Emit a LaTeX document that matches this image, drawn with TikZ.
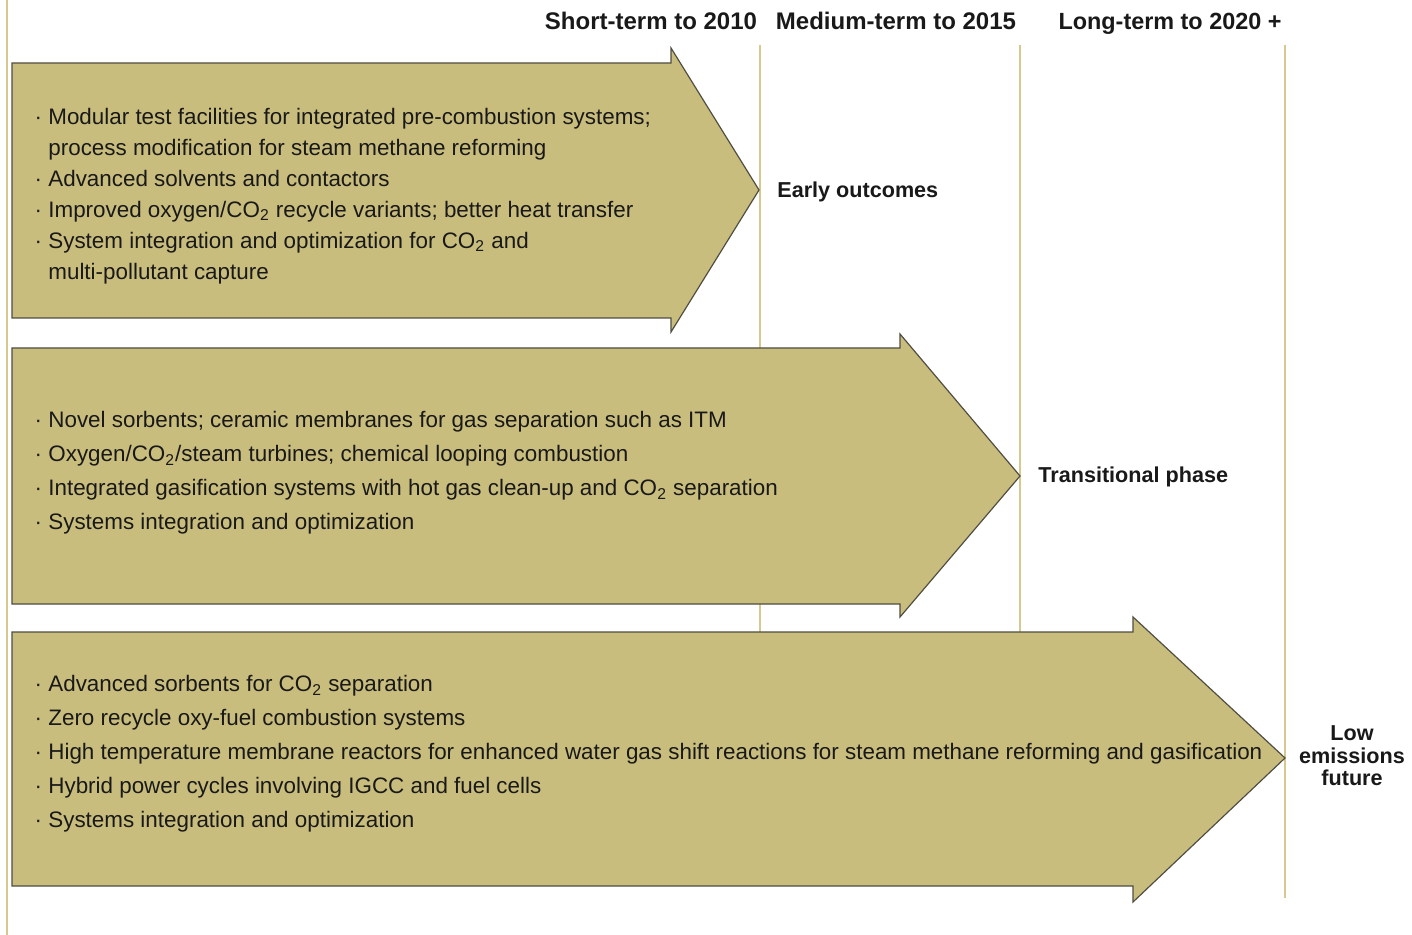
\documentclass[tikz,border=0pt]{standalone}
\usepackage{fontspec}
\setmainfont{Liberation Sans}
\usetikzlibrary{positioning}
\definecolor{khaki}{RGB}{201,189,126}
\definecolor{rulecol}{RGB}{214,201,143}
\definecolor{edgecol}{RGB}{80,78,66}
\newcommand{\itm}{\llap{\textperiodcentered\ }}
\newcommand{\cotwo}{CO\textsubscript{2}}

\begin{document}
\begin{tikzpicture}[x=0.5pt,y=-0.5pt]
\tikzset{phase/.style={fill=khaki,draw=edgecol,line width=0.6pt,line join=miter}}
\tikzset{rulestyle/.style={draw=rulecol,line width=1pt}}
\tikzset{items/.style={anchor=west,align=left,inner sep=0pt,text=black!90}}
\tikzset{period/.style={anchor=base,inner sep=0pt,font=\bfseries\fontsize{12}{14}\selectfont,text=black!90}}
\tikzset{outcome/.style={font=\bfseries\fontsize{10.8}{11.25}\selectfont,align=center,inner sep=0pt,text=black!90}}
\useasboundingbox (0,0) rectangle (1412,935);
\fill[white] (0,0) rectangle (1412,935);
% time rules
\draw[rulestyle] (7,0) -- (7,935);
\draw[rulestyle] (760,45) -- (760,632);
\draw[rulestyle] (1020,45) -- (1020,632);
\draw[rulestyle] (1285,45) -- (1285,898);
% period headers
\node[period] (short) at (651,30) {Short-term to 2010};
\node[period] (medium) at (896,30) {Medium-term to 2015};
\node[period,font=\bfseries\fontsize{11.7}{14}\selectfont] (long) at (1170,30) {Long-term to 2020 +};
% phase arrows
\draw[phase] (12,63) -- (671,63) -- (671,48) -- (759,190) -- (671,332) -- (671,318) -- (12,318) -- cycle;
\draw[phase] (12,348) -- (900,348) -- (900,334) -- (1020,476) -- (900,617) -- (900,604) -- (12,604) -- cycle;
\draw[phase] (12,632) -- (1133,632) -- (1133,617) -- (1285,758) -- (1133,902) -- (1133,886) -- (12,886) -- cycle;
% arrow texts
\node[items,font=\fontsize{11.2}{15.5}\selectfont] (early) at (48,196) {%
\itm Modular test facilities for integrated pre-combustion systems;\\
process modification for steam methane reforming\\
\itm Advanced solvents and contactors\\
\itm Improved oxygen/\cotwo{} recycle variants; better heat transfer\\
\itm System integration and optimization for \cotwo{} and\\
multi-pollutant capture};
\node[items,font=\fontsize{11.2}{17}\selectfont] (trans) at (48,473) {%
\itm Novel sorbents; ceramic membranes for gas separation such as ITM\\
\itm Oxygen/\cotwo/steam turbines; chemical looping combustion\\
\itm Integrated gasification systems with hot gas clean-up and \cotwo{} separation\\
\itm Systems integration and optimization};
\node[items,font=\fontsize{11.2}{17}\selectfont] (low) at (48,754) {%
\itm Advanced sorbents for \cotwo{} separation\\
\itm Zero recycle oxy-fuel combustion systems\\
\itm High temperature membrane reactors for enhanced water gas shift reactions for steam methane reforming and gasification\\
\itm Hybrid power cycles involving IGCC and fuel cells\\
\itm Systems integration and optimization};
% outcomes
\node[outcome,anchor=west] (earlyout) at (777,192) {Early outcomes};
\node[outcome,anchor=west] (transout) at (1038,477) {Transitional phase};
\node[outcome] (lowout) at (1352,756) {Low\\emissions\\future};
\end{tikzpicture}
\end{document}
